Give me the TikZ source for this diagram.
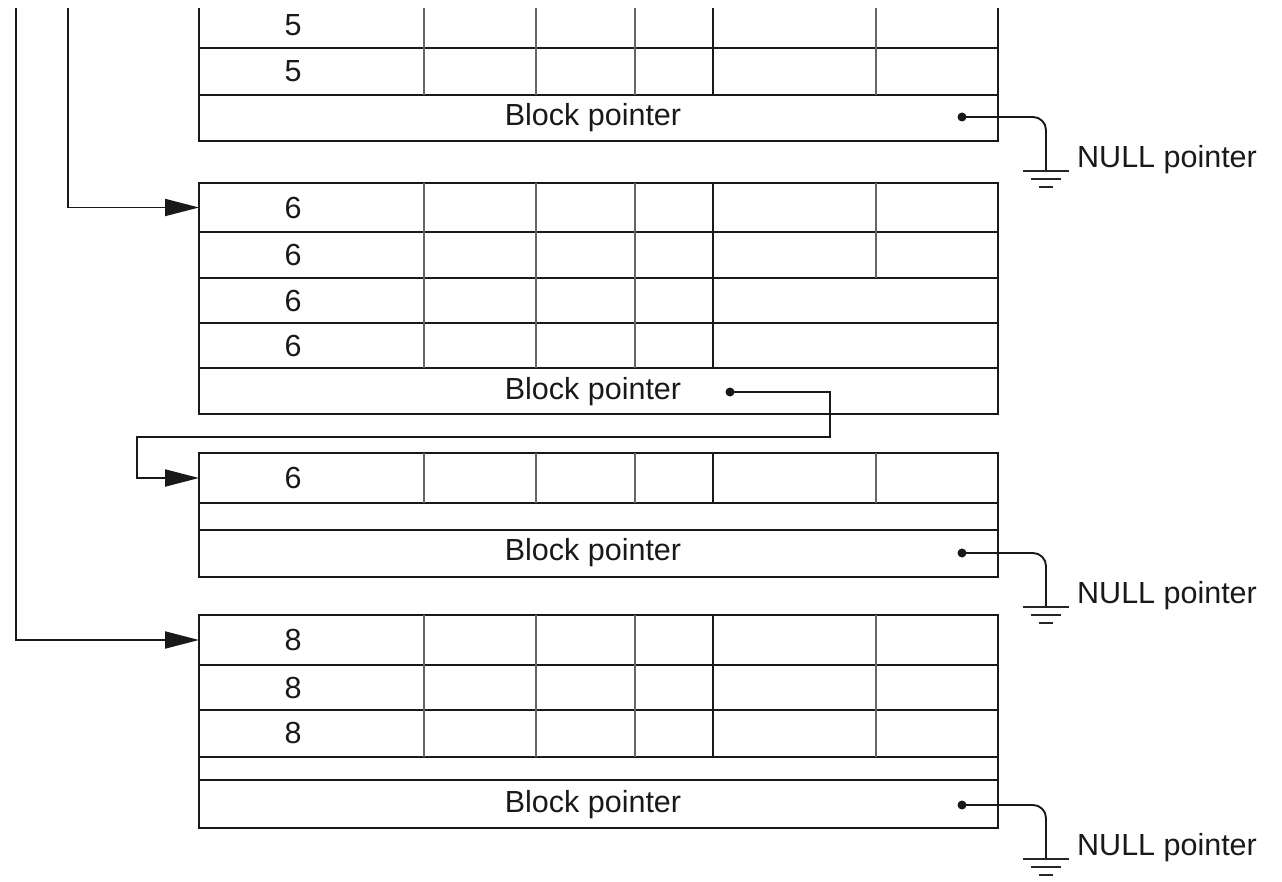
\documentclass[tikz,border=0pt]{standalone}
\usepackage{fontspec}
\setmainfont{Liberation Sans}
\usetikzlibrary{arrows.meta}
\begin{document}
\begin{tikzpicture}[x=1pt,y=-1pt,
  rowbox/.style={draw=black!90, line width=2pt, minimum width=799pt, inner sep=0pt, outer sep=0pt, anchor=north west},
  major/.style={draw=black!90, line width=2pt},
  minor/.style={draw=black!60, line width=1.8pt},
  lbl/.style={inner sep=0pt, font=\fontsize{30.5}{36}\selectfont, text=black!90},
  wire/.style={draw=black!90, line width=1.9pt},
  arr/.style={wire, -{Triangle[length=34pt,width=17pt]}},
  gnd/.style={draw=black!85, line width=2pt},
  dotfill/.style={fill=black!90}
]
\useasboundingbox (0,0) rectangle (1282,882);

% ---------------- Block 1 (top, cut off) ----------------
\draw[major] (199,8) -- (199,141) -- (998,141) -- (998,8);
\draw[major] (199,48) -- (998,48);
\node[rowbox, minimum height=46pt] (b1p) at (199,95) {};
\foreach \x in {424,536,635,876} \draw[minor] (\x,8) -- (\x,95);
\draw[major] (713,8) -- (713,95);
\node[lbl] (t11) at (293,25) {5};
\node[lbl] (t12) at (293,71) {5};
\node[lbl] (bp1) at (593,118) {Block pointer};

% ---------------- Block 2 ----------------
\node[rowbox, minimum height=49pt] (b2r1) at (199,183) {};
\node[rowbox, minimum height=46pt] (b2r2) at (199,232) {};
\node[rowbox, minimum height=45pt] (b2r3) at (199,278) {};
\node[rowbox, minimum height=45pt] (b2r4) at (199,323) {};
\node[rowbox, minimum height=46pt] (b2p) at (199,368) {};
\foreach \x in {424,536,635} \draw[minor] (\x,183) -- (\x,368);
\draw[major] (713,183) -- (713,368);
\draw[minor] (876,183) -- (876,278);
\node[lbl] at (293,208) {6};
\node[lbl] at (293,255) {6};
\node[lbl] at (293,301) {6};
\node[lbl] at (293,346) {6};
\node[lbl] (bp2) at (593,392) {Block pointer};

% ---------------- Block 3 ----------------
\node[rowbox, minimum height=50pt] (b3r1) at (199,453) {};
\node[rowbox, minimum height=27pt] (b3r2) at (199,503) {};
\node[rowbox, minimum height=47pt] (b3p) at (199,530) {};
\foreach \x in {424,536,635,876} \draw[minor] (\x,453) -- (\x,503);
\draw[major] (713,453) -- (713,503);
\node[lbl] at (293,478) {6};
\node[lbl] (bp3) at (593,553) {Block pointer};

% ---------------- Block 4 ----------------
\node[rowbox, minimum height=50pt] (b4r1) at (199,615) {};
\node[rowbox, minimum height=45pt] (b4r2) at (199,665) {};
\node[rowbox, minimum height=47pt] (b4r3) at (199,710) {};
\node[rowbox, minimum height=23pt] (b4r4) at (199,757) {};
\node[rowbox, minimum height=48pt] (b4p) at (199,780) {};
\foreach \x in {424,536,635,876} \draw[minor] (\x,615) -- (\x,757);
\draw[major] (713,615) -- (713,757);
\node[lbl] at (293,640) {8};
\node[lbl] at (293,688) {8};
\node[lbl] at (293,733) {8};
\node[lbl] (bp4) at (593,805) {Block pointer};

% ---------------- pointers ----------------
\coordinate (c2) at (68,8);
\coordinate (c4) at (16,8);
\draw[arr] (c2) |- (b2r1.west);
\draw[arr] (c4) |- (b4r1.west);

\coordinate (p2) at (730,392);
\coordinate (k1) at (830,437);
\coordinate (k2) at (137,478);
\fill[dotfill] (p2) circle (4.5pt);
\draw[arr] (p2) -| (k1) -| (k2) -- (b3r1.west);

% NULL pointers
\foreach \py/\nm in {117/1,553/3,805/4}{
  \coordinate (p\nm) at (962,\py);
  \coordinate (g\nm) at (1046,\py+54);
  \fill[dotfill] (p\nm) circle (4.5pt);
  \draw[wire, rounded corners=13pt] (p\nm) -| (g\nm);
  \draw[gnd] ([xshift=-23pt]g\nm) -- ([xshift=23pt]g\nm);
  \draw[gnd] ([xshift=-15pt,yshift=-8pt]g\nm) -- ([xshift=15pt,yshift=-8pt]g\nm);
  \draw[gnd] ([xshift=-7pt,yshift=-16pt]g\nm) -- ([xshift=7pt,yshift=-16pt]g\nm);
  \node[lbl, anchor=west] (n\nm) at ([xshift=31pt,yshift=11pt]g\nm) {NULL pointer};
}
\end{tikzpicture}
\end{document}
